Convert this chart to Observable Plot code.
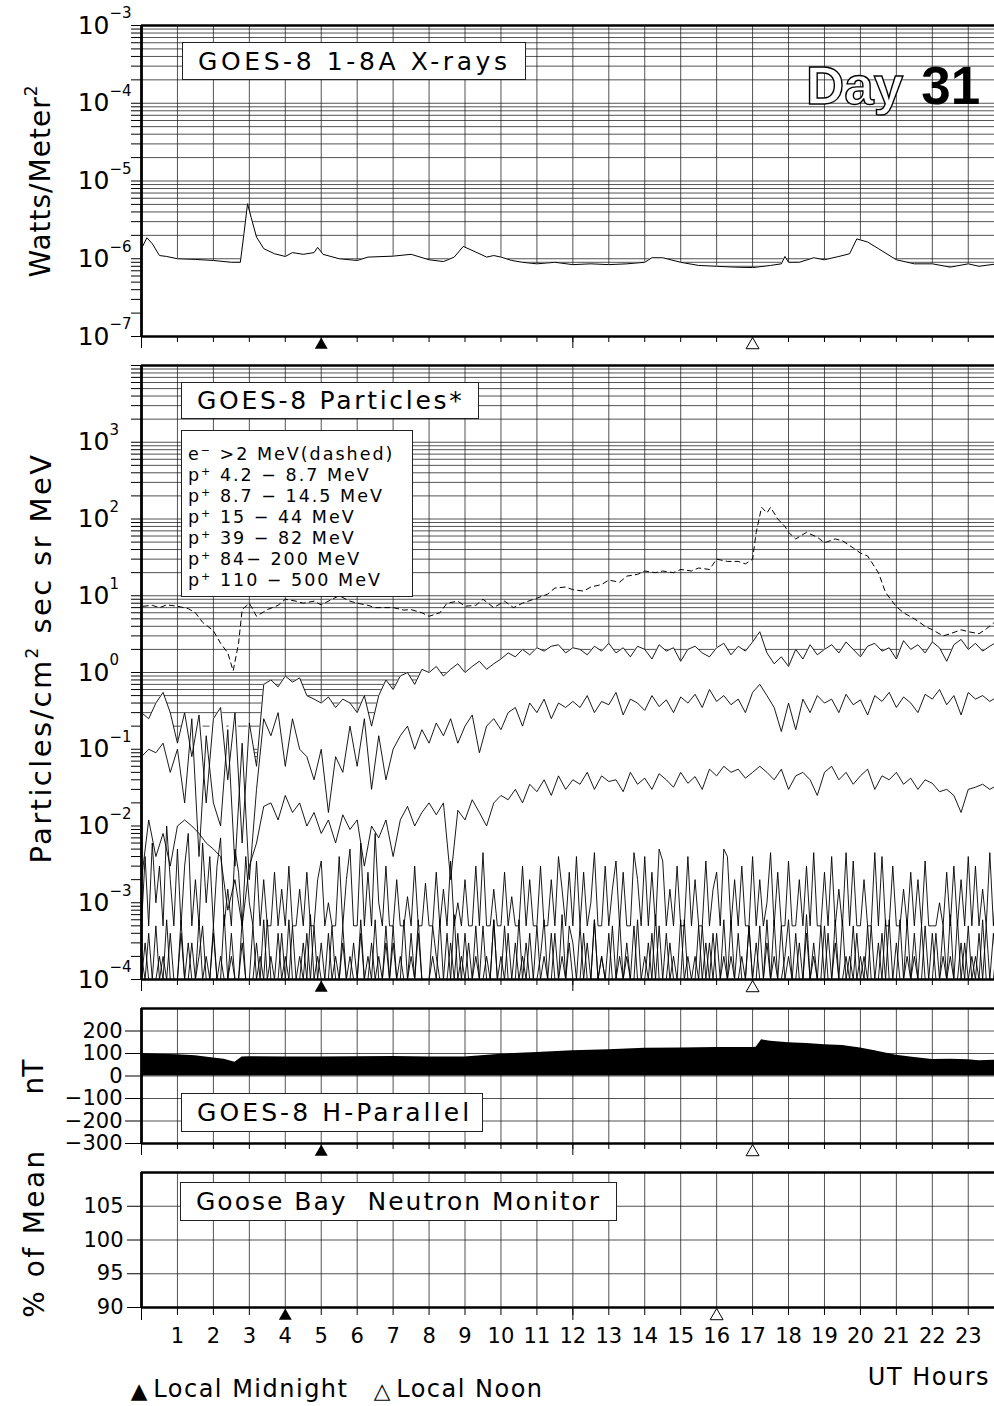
<!DOCTYPE html>
<html><head><meta charset="utf-8">
<script src="https://cdn.jsdelivr.net/npm/d3@7"></script>
<script src="https://cdn.jsdelivr.net/npm/@observablehq/plot@0.6"></script>
<style>
html,body{margin:0;padding:0;background:#fff;overflow:hidden;}
#page{position:relative;width:994px;height:1406px;overflow:hidden;font-family:"DejaVu Sans",sans-serif;color:#000;}
.panel{position:absolute;left:0;}
.box{position:absolute;background:#fff;border:1.5px solid #222;box-sizing:border-box;display:flex;align-items:center;white-space:nowrap;}
.title{font-size:25px;letter-spacing:3.6px;padding-left:15px;}
.legend{display:block;font-size:17.5px;letter-spacing:2px;line-height:21px;padding:13px 0 0 6px;}
.legend sup{font-size:11px;vertical-align:6px;line-height:0;}
.rot{position:absolute;transform:translate(-50%,-50%) rotate(-90deg);white-space:nowrap;font-size:28px;}
.rot sup{font-size:17px;vertical-align:13px;line-height:0;}
#day{position:absolute;left:806px;top:59px;font-family:"Liberation Sans",Arial,sans-serif;font-weight:bold;font-size:53px;line-height:53px;white-space:nowrap;}
#day .o{color:#fff;-webkit-text-stroke:1.4px #000;}
#day .n{margin-left:18px;}
.cap{position:absolute;white-space:nowrap;}
.tri{display:inline-block;font-size:16px;transform:scale(1.35);transform-origin:50% 70%;margin-right:8px;letter-spacing:0;}
</style></head>
<body><div id="page">
<div class="panel" id="p1"></div>
<div class="panel" id="p2"></div>
<div class="panel" id="p3"></div>
<div class="panel" id="p4"></div>
<div class="box title" style="left:182px;top:42px;width:344px;height:38px;">GOES-8 1-8A X-rays</div>
<div id="day"><span class="o">Day</span><span class="n">31</span></div>
<div class="box title" style="left:181px;top:382px;width:298px;height:37px;letter-spacing:2.7px;">GOES-8 Particles*</div>
<div class="box legend" style="left:181px;top:430px;width:232px;height:167px;">e<sup>−</sup> &gt;2 MeV(dashed)<br>p<sup>+</sup> 4.2 − 8.7 MeV<br>p<sup>+</sup> 8.7 − 14.5 MeV<br>p<sup>+</sup> 15 − 44 MeV<br>p<sup>+</sup> 39 − 82 MeV<br>p<sup>+</sup> 84− 200 MeV<br>p<sup>+</sup> 110 − 500 MeV</div>
<div class="box title" style="left:181px;top:1093px;width:302px;height:39px;letter-spacing:3.1px;">GOES-8 H-Parallel</div>
<div class="box title" style="left:180px;top:1182px;width:437px;height:39px;letter-spacing:2px;">Goose Bay&nbsp; Neutron Monitor</div>
<div class="rot" style="left:40px;top:181px;letter-spacing:1px;">Watts/Meter<sup>2</sup></div>
<div class="rot" style="left:41px;top:658px;font-size:29px;letter-spacing:2.4px;">Particles/cm<sup>2</sup> sec sr MeV</div>
<div class="rot" style="left:33px;top:1077px;">nT</div>
<div class="rot" style="left:34px;top:1233px;letter-spacing:2.4px;">% of Mean</div>
<div class="cap" style="left:133px;top:1375px;font-size:24px;letter-spacing:1.5px;"><span class="tri">▲</span>Local Midnight&nbsp;&nbsp; <span class="tri">△</span>Local Noon</div>
<div class="cap" style="right:4px;top:1363px;font-size:24px;letter-spacing:1.5px;">UT Hours</div>
</div>
<script>
// ---------- axis / tick data ----------
const allHours = [0,1,2,3,4,5,6,7,8,9,10,11,12,13,14,15,16,17,18,19,20,21,22,23];
const hourLabels = [1,2,3,4,5,6,7,8,9,10,11,12,13,14,15,16,17,18,19,20,21,22,23];
const longTickHours = [0, 12];
const midnightGOES = [5], noonGOES = [17];
const midnightNM = [4], noonNM = [16];
const xrayDecades = [-7,-6,-5,-4,-3];
const particleDecades = [-4,-3,-2,-1,0,1,2,3,4];
const particleLabelDecades = [-4,-3,-2,-1,0,1,2,3];
const hparTicks = [-300,-200,-100,0,100,200];
const hparGrid = [-200,-100,0,100,200];
const nmTicks = [90,95,100,105];
const nmGrid = [95,100,105];

// ---------- GOES-8 1-8 A X-rays (W/m^2) ----------
const xrayHours = [0,0.15,0.3,0.5,0.7,1,1.5,2,2.5,2.75,2.85,2.95,3.05,3.2,3.4,3.7,4,4.2,4.5,4.8,4.9,5.05,5.5,6,6.3,7,7.5,8,8.4,8.7,8.95,9.3,9.6,9.8,10,10.3,10.6,11,11.5,12,12.5,13,13.5,14,14.2,14.5,15,15.5,16,16.5,17,17.5,17.8,17.9,18,18.3,18.7,19,19.4,19.7,19.9,20.2,20.5,21,21.5,22,22.5,23,23.3,23.8];
const xrayFlux = [1.35e-6,1.86e-6,1.56e-6,1.1e-6,1.07e-6,1.0e-6,0.98e-6,0.95e-6,0.9e-6,0.9e-6,2.1e-6,5.1e-6,3.4e-6,1.9e-6,1.35e-6,1.16e-6,1.07e-6,1.2e-6,1.14e-6,1.2e-6,1.4e-6,1.14e-6,1.0e-6,0.95e-6,1.05e-6,1.08e-6,1.14e-6,0.97e-6,0.92e-6,1.05e-6,1.44e-6,1.22e-6,1.05e-6,1.1e-6,1.05e-6,0.95e-6,0.9e-6,0.86e-6,0.9e-6,0.84e-6,0.86e-6,0.84e-6,0.86e-6,0.9e-6,1.03e-6,1.03e-6,0.9e-6,0.82e-6,0.8e-6,0.78e-6,0.77e-6,0.82e-6,0.86e-6,1.07e-6,0.9e-6,0.9e-6,1.03e-6,0.97e-6,1.07e-6,1.16e-6,1.8e-6,1.64e-6,1.35e-6,0.97e-6,0.86e-6,0.86e-6,0.78e-6,0.86e-6,0.8e-6,0.86e-6];

// ---------- GOES-8 electrons > 2 MeV (dashed) ----------
const elecHours = [0.05,0.3,0.5,0.7,1,1.3,1.5,1.7,2,2.2,2.4,2.55,2.7,2.8,3,3.2,3.5,3.8,4,4.3,4.5,4.8,5,5.3,5.5,5.8,6,6.3,6.5,7,7.3,7.5,7.8,8,8.3,8.5,8.8,9,9.3,9.5,9.8,10.1,10.35,10.6,11,11.3,11.5,11.8,12,12.3,12.5,12.8,13,13.3,13.5,13.8,14,14.3,14.5,14.8,15,15.3,15.5,15.8,16,16.3,16.6,16.8,17,17.1,17.25,17.4,17.5,17.7,17.9,18,18.2,18.5,18.8,19,19.3,19.5,19.8,20,20.2,20.5,20.7,21,21.2,21.5,21.8,22,22.3,22.5,22.8,23,23.3,23.5,23.7,23.8];
const elecFlux = [7.3,7.5,7,7.6,7.3,6.8,6,4.5,3.5,2.4,1.8,1.05,2.4,6.6,8,5.4,6.6,7.5,9,8.5,8,8.5,7.6,9,10,8.5,8,7.5,7,7,6.5,6.6,6,5.4,6,8,8.5,7.3,7.5,9,7,8.5,7,8,9.3,10.5,12.6,13,12,11.5,13,14,16,15,18,19,21,20,21,20,22,21,23,22,30,28,28,26,30,67,142,120,142,100,80,67,55,67,58,49,55,52,42,36,33,20,11,7.2,6,5,4,3.6,3,3.2,3.6,3.4,3.2,3.7,4.4,4.8];

// ---------- GOES-8 protons 4.2-44 MeV, sampled every 0.2 h from 00 UT ----------
const LOW_STEP_H = 0.2;
const p4_8 = [0.3,0.25,0.4,0.55,0.3,0.12,
 0.3,0.08,0.28,0.02,0.25,0.35,0.04,0.3,0.006,0.22,0.06,
 0.7,0.8,0.65,0.9,0.75,0.85,
 0.5,0.45,0.4,0.48,0.35,0.45,
 0.4,0.3,0.5,0.2,0.5,0.8,0.6,
 0.9,1.0,0.7,1.1,1.0,
 1.2,0.9,1.1,1.3,1.0,1.2,1.4,1.1,1.3,1.5,
 1.8,1.6,2.0,1.7,2.1,1.9,2.2,2.3,1.8,2.1,
 2.0,1.7,2.2,1.9,2.4,1.8,2.1,1.6,2.2,2.0,1.5,2.3,1.9,2.1,1.4,2.0,2.2,1.8,1.6,2.1,2.4,1.7,2.2,1.9,2.5,
 3.4,
 1.8,1.3,1.6,1.2,2.0,1.5,2.3,1.7,2.0,
 2.3,1.8,2.5,2.0,1.6,2.2,2.4,1.9,2.1,1.5,2.6,2.0,2.3,1.8,2.5,2.1,1.4,2.3,2.7,2.0,2.4,1.9,2.2,2.5];
const p8_14 = [0.08,0.1,0.09,0.12,0.05,0.1,
 0.02,0.25,0.004,0.15,0.02,0.01,0.18,0.003,0.12,0.002,0.03,
 0.25,0.15,0.3,0.06,0.25,0.1,
 0.08,0.04,0.1,0.015,0.08,0.05,
 0.2,0.06,0.25,0.03,0.15,0.04,0.1,
 0.15,0.2,0.1,0.18,0.12,
 0.22,0.15,0.25,0.12,0.2,0.28,0.09,0.2,0.25,0.18,
 0.3,0.35,0.2,0.4,0.3,0.45,0.25,0.4,0.35,0.42,
 0.35,0.5,0.3,0.42,0.38,0.55,0.28,0.45,0.4,0.32,0.5,0.36,0.44,0.3,0.48,0.4,0.52,0.35,0.6,0.42,0.5,0.38,0.45,0.3,0.55,
 0.7,
 0.5,0.35,0.17,0.4,0.18,0.45,0.3,0.5,0.4,
 0.45,0.3,0.52,0.38,0.44,0.28,0.5,0.42,0.55,0.35,0.48,0.4,0.3,0.52,0.45,0.6,0.38,0.5,0.28,0.55,0.45,0.5,0.42,0.48];
const p15_44 = [0.002,0.012,0.004,0.008,0.003,0.01,
 0.012,0.01,0.008,0.006,0.005,0.004,0.0008,0.002,0.0005,0.003,0.006,
 0.018,0.02,0.012,0.025,0.015,0.02,
 0.01,0.015,0.008,0.012,0.006,0.014,
 0.009,0.012,0.003,0.01,0.007,0.012,0.004,
 0.012,0.018,0.01,0.015,0.02,
 0.014,0.02,0.002,0.016,0.012,0.022,0.015,0.01,0.02,0.025,
 0.022,0.03,0.02,0.035,0.028,0.04,0.025,0.045,0.03,0.04,
 0.035,0.05,0.03,0.045,0.038,0.04,0.028,0.05,0.035,0.042,0.03,0.048,0.04,0.032,0.05,0.036,0.044,0.03,0.055,0.045,0.06,0.05,0.055,0.042,0.05,
 0.06,
 0.05,0.04,0.055,0.03,0.045,0.05,0.04,0.025,0.05,
 0.06,0.04,0.05,0.035,0.045,0.055,0.03,0.045,0.04,0.05,0.035,0.042,0.03,0.04,0.036,0.028,0.03,0.025,0.015,0.03,0.032,0.035,0.03,0.034];

// ---------- GOES-8 protons 39-500 MeV, sampled every 0.1 h, values in units of 1e-4 ----------
const HIGH_STEP_H = 0.1;
const HIGH_UNIT = 1e-4;
const p39_82_e4 = [
 5,40,5,60,10,30,5,100,20,5,
 50,5,30,80,5,20,5,60,10,40,
 5,30,70,5,15,5,50,25,5,40,
 10,5,35,5,20,5,5,25,5,15,
 5,30,5,5,15,5,25,5,5,20,
 35,5,10,5,5,40,5,20,50,5,
 5,60,5,25,5,80,10,5,30,5,
 5,20,5,5,12,5,30,5,5,18,
 5,5,25,5,15,5,35,5,10,5,
 20,5,5,30,5,45,5,5,15,5,
 5,25,5,12,5,5,30,5,20,5,
 5,30,5,5,20,5,40,15,5,25,
 5,40,5,25,5,10,45,5,5,30,
 5,15,35,5,25,5,5,45,20,5,
 40,5,25,5,50,35,5,15,5,30,
 5,5,40,5,20,5,5,35,5,15,
 25,5,50,40,5,20,5,30,5,5,
 40,5,20,5,10,45,5,25,5,5,
 35,5,5,20,5,30,5,45,5,5,
 25,5,40,5,15,5,45,5,35,5,
 5,20,5,5,45,5,40,5,5,30,
 5,5,15,5,25,5,20,5,35,5,
 5,5,10,5,25,5,30,5,20,5,
 40,5,30,5,15,5,45,5,25,5];
const p84_200_e4 = [
 1,3,1,1,5,1,2,1,4,1,
 1,6,1,3,1,1,2,5,1,1,
 4,1,1,7,1,2,1,1,3,1,
 1,5,1,2,1,6,1,1,4,1,
 2,1,5,1,1,3,1,7,1,2,
 1,1,4,1,2,1,5,1,1,3,
 1,6,1,1,3,1,2,1,5,1,
 3,1,1,6,1,2,1,4,1,1,
 1,5,2,1,1,4,1,7,1,2,
 1,3,1,5,1,1,2,1,6,1,
 2,1,4,1,1,6,1,3,1,1,
 5,1,2,1,4,1,1,7,1,3,
 1,1,5,1,3,1,6,1,2,1,
 4,1,1,6,1,2,1,5,1,1,
 1,3,1,7,1,1,4,1,2,1,
 6,1,2,1,1,5,1,3,1,4,
 1,1,6,1,2,1,4,1,1,5,
 1,3,1,1,6,1,2,1,5,1,
 2,1,4,1,1,7,1,3,1,1,
 5,1,1,3,1,6,1,2,1,4,
 1,2,1,5,1,1,4,1,6,1,
 3,1,1,6,1,2,1,5,1,1,
 1,4,1,2,1,7,1,1,3,1,
 5,1,2,1,6,1,1,4,1,3];
const p110_500_e4 = [
 2,1,4,1,1,2,1,6,1,1,
 1,4,1,1,3,1,6,1,2,1,
 5,1,2,1,1,4,1,1,6,1,
 1,1,3,1,6,1,2,1,1,4,
 1,6,1,1,2,1,4,1,5,1,
 3,1,1,5,1,1,3,1,2,1,
 1,4,1,2,1,6,1,1,3,1,
 5,1,2,1,1,4,1,6,1,1,
 1,2,1,6,1,1,3,1,4,1,
 4,1,1,2,1,5,1,1,6,1,
 1,5,1,1,3,1,2,1,4,1,
 1,2,6,1,1,4,1,2,1,5,
 3,1,1,4,1,1,6,1,2,1,
 1,5,1,2,1,3,1,1,6,1,
 2,1,4,1,5,1,1,3,1,1,
 1,6,1,1,2,1,5,1,3,1,
 4,1,2,1,6,1,1,2,1,5,
 1,1,5,1,3,1,6,1,1,2,
 6,1,1,3,1,4,1,2,1,5,
 1,4,1,6,1,1,2,1,5,1,
 2,1,5,1,1,3,1,6,1,1,
 1,6,1,2,1,4,1,1,5,1,
 4,1,1,5,1,2,1,6,1,3,
 1,2,1,4,1,5,1,1,3,1];

// ---------- GOES-8 H-parallel (nT) ----------
const hparHours = [0,0.5,1,1.5,2,2.3,2.6,2.8,3,4,5,6,7,8,9,10,11,12,13,14,15,16,17,17.1,17.25,17.5,18,18.5,19,19.5,20,20.4,21,21.5,22,22.5,23,23.3,23.8];
const hparNT = [100,97,94,90,80,75,61,84,86,85,84,86,87,84,85,97,105,112,117,123,125,127,127,128,161,154,148,144,139,136,125,112,92,82,73,74,72,68,70];

// ---------- helpers ----------
const XDOMAIN = [0, 23.73];
function logMinors(decs){const o=[];for(let k=0;k<decs.length-1;k++)for(let m=1;m<=9;m++)o.push(m*Math.pow(10,decs[k]));o.push(Math.pow(10,decs[decs.length-1]));return o;}
const expText = d => d < 0 ? "\u2212" + (-d) : String(d);
const GRID = {stroke:"#1a1a1a", strokeOpacity:1, strokeWidth:0.75};
const common = {width:994, marginLeft:141, marginRight:0,
  style:{fontFamily:'"DejaVu Sans", sans-serif', fontSize:"21px", background:"transparent", overflow:"visible", color:"#000"}};
const noLab = () => "";
function bottomTicks(short, long){
  return [Plot.axisX(allHours,{tickSize:short,tickFormat:noLab,label:null,strokeWidth:1}),
          Plot.axisX(longTickHours,{tickSize:long,tickFormat:noLab,label:null,strokeWidth:1})];
}
function markers(mid, noon){
  return [Plot.dot(mid,{x:d=>d,frameAnchor:"bottom",dy:8.5,symbol:"triangle",r:4.8,fill:"#000",stroke:null}),
          Plot.dot(noon,{x:d=>d,frameAnchor:"bottom",dy:8.5,symbol:"triangle",r:4.8,fill:"#fff",stroke:"#000",strokeWidth:1})];
}
function powLabels(decs){
  return [Plot.text(decs,{y:d=>Math.pow(10,d),frameAnchor:"left",text:()=>"10",dx:-32,textAnchor:"end",fontSize:25}),
          Plot.text(decs,{y:d=>Math.pow(10,d),frameAnchor:"left",text:expText,dx:-32,dy:-12,textAnchor:"start",fontSize:15})];
}

// ---------- panel 1: X-rays ----------
const xray = xrayHours.map((h,i)=>({h, v:xrayFlux[i]}));
const xrayMinor = logMinors(xrayDecades);
const p1 = Plot.plot({...common, height:356, marginTop:25, marginBottom:20,
  x:{domain:XDOMAIN, label:null}, y:{type:"log", domain:[1e-7,1e-3], label:null},
  marks:[
    Plot.gridY(xrayMinor, GRID),
    Plot.gridX(allHours, GRID),
    Plot.areaY(xray,{x:"h", y1:1e-7, y2:"v", fill:"#fff", clip:true}),
    Plot.line(xray,{x:"h", y:"v", stroke:"#000", strokeWidth:1, clip:true}),
    Plot.axisY(xrayMinor,{tickSize:10, tickFormat:noLab, label:null}),
    ...powLabels(xrayDecades),
    ...bottomTicks(6,12),
    Plot.ruleY([1e-7,1e-3],{strokeWidth:2.6}),
    Plot.ruleX([0],{strokeWidth:2.8}),
    ...markers(midnightGOES, noonGOES)
  ]});
document.getElementById("p1").style.top = "0px";
document.getElementById("p1").append(p1);

// ---------- panel 2: particles ----------
const low = p4_8.map((a,i)=>({h:i*LOW_STEP_H, a, b:p8_14[i], c:p15_44[i]}));
low.forEach(r=>{r.env = Math.max(r.a,r.b,r.c);});
const high = p39_82_e4.map((d,i)=>({h:i*HIGH_STEP_H, d:d*HIGH_UNIT, e:p84_200_e4[i]*HIGH_UNIT, f:p110_500_e4[i]*HIGH_UNIT}));
const elec = elecHours.map((h,i)=>({h, v:elecFlux[i]}));
const partMinor = logMinors(particleDecades);
const lineOpt = {x:"h", stroke:"#000", strokeWidth:0.9, clip:true};
const p2 = Plot.plot({...common, height:640, marginTop:5, marginBottom:21,
  x:{domain:XDOMAIN, label:null}, y:{type:"log", domain:[1e-4,1e4], label:null},
  marks:[
    Plot.gridY(partMinor, GRID),
    Plot.gridX(allHours, GRID),
    Plot.areaY(low,{x:"h", y1:1e-4, y2:"env", fill:"#fff", clip:true}),
    Plot.line(high,{...lineOpt, y:"f"}),
    Plot.line(high,{...lineOpt, y:"e"}),
    Plot.line(high,{...lineOpt, y:"d"}),
    Plot.line(low,{...lineOpt, y:"c"}),
    Plot.line(low,{...lineOpt, y:"b"}),
    Plot.line(low,{...lineOpt, y:"a"}),
    Plot.line(elec,{x:"h", y:"v", stroke:"#000", strokeWidth:1, strokeDasharray:"5,4", clip:true}),
    Plot.axisY(partMinor,{tickSize:10, tickFormat:noLab, label:null}),
    ...powLabels(particleLabelDecades),
    ...bottomTicks(6,12),
    Plot.ruleY([1e-4,1e4],{strokeWidth:2.6}),
    Plot.ruleX([0],{strokeWidth:2.8}),
    ...markers(midnightGOES, noonGOES)
  ]});
document.getElementById("p2").style.top = "360px";
document.getElementById("p2").append(p2);

// ---------- panel 3: H-parallel ----------
const hpar = hparHours.map((h,i)=>({h, v:hparNT[i]}));
const p3 = Plot.plot({...common, height:165, marginTop:8, marginBottom:22,
  x:{domain:XDOMAIN, label:null}, y:{domain:[-300,300], label:null},
  marks:[
    Plot.gridY(hparGrid, GRID),
    Plot.gridX(allHours, GRID),
    Plot.areaY(hpar,{x:"h", y:"v", fill:"#000", clip:true}),
    Plot.axisY(hparTicks,{tickSize:16, tickPadding:3, tickFormat:expText, label:null}),
    ...bottomTicks(6,12),
    Plot.ruleY([-300,300],{strokeWidth:2.6}),
    Plot.ruleX([0],{strokeWidth:2.8}),
    ...markers(midnightGOES, noonGOES)
  ]});
document.getElementById("p3").style.top = "1000px";
document.getElementById("p3").append(p3);

// ---------- panel 4: Goose Bay neutron monitor ----------
const p4 = Plot.plot({...common, height:200, marginTop:12, marginBottom:53,
  x:{domain:XDOMAIN, label:null}, y:{domain:[90,110], label:null},
  marks:[
    Plot.gridY(nmGrid, GRID),
    Plot.gridX(allHours, GRID),
    Plot.axisY(nmTicks,{tickSize:14, tickPadding:4, label:null}),
    ...bottomTicks(8,13),
    Plot.axisX(hourLabels,{tickSize:0, tickPadding:21, label:null}),
    Plot.ruleY([90,110],{strokeWidth:2.6}),
    Plot.ruleX([0],{strokeWidth:2.8}),
    ...markers(midnightNM, noonNM)
  ]});
document.getElementById("p4").style.top = "1160px";
document.getElementById("p4").append(p4);
</script>
</body></html>
